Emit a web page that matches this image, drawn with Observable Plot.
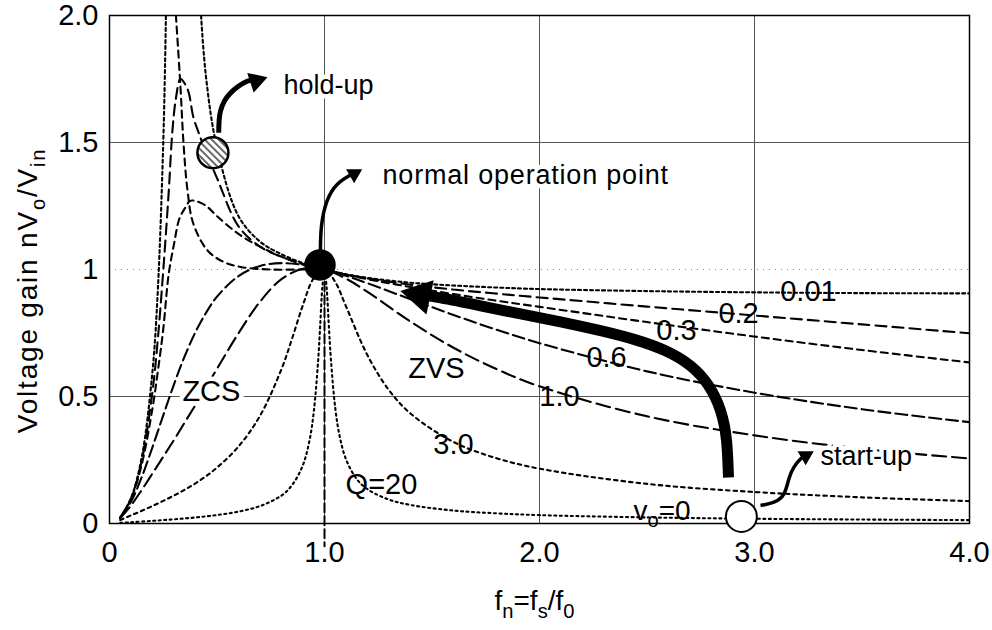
<!DOCTYPE html>
<html><head><meta charset="utf-8">
<script src="https://cdn.jsdelivr.net/npm/d3@7"></script>
<script src="https://cdn.jsdelivr.net/npm/@observablehq/plot@0.6"></script>
<style>html,body{margin:0;padding:0;background:#fff;}</style>
</head><body><div id="chart"></div>
<script>
// ---- axis ticks ----
const xTicks = [0, 1, 2, 3, 4];
const xTickLabels = ["0", "1.0", "2.0", "3.0", "4.0"];
const yTicks = [0, 0.5, 1, 1.5, 2];
const yTickLabels = ["0", "0.5", "1", "1.5", "2.0"];
const xTitle = "f_{n}=f_{s}/f_{0}";
const yTitle = "Voltage gain nV_{o}/V_{in}";

// ---- gain curves (fn, gain) ----
const q001X = [0.05, 0.1, 0.15, 0.2, 0.225, 0.25, 0.26, 0.27, 0.3, 0.4, 0.42, 0.45, 0.5, 0.6, 0.7, 0.8, 0.9, 1.0, 1.1, 1.2, 1.4, 1.6, 1.8, 2.0, 2.5, 3.0, 3.5, 4.0];
const q001Y = [0.023, 0.1, 0.261, 0.6, 0.922, 1.5, 1.88, 2.42, null, 2.4, 2.08, 1.75, 1.48, 1.21, 1.11, 1.06, 1.025, 1.0, 0.981, 0.967, 0.948, 0.937, 0.929, 0.923, 0.915, 0.91, 0.907, 0.906];

const q02X = [0.05, 0.1, 0.15, 0.2, 0.225, 0.25, 0.275, 0.293, 0.31, 0.33, 0.363, 0.39, 0.414, 0.45, 0.5, 0.6, 0.7, 0.8, 0.9, 1.0, 1.1, 1.2, 1.4, 1.6, 1.8, 2.0, 2.5, 3.0, 3.5, 4.0];
const q02Y = [0.023, 0.098, 0.247, 0.52, 0.728, 0.996, 1.3, 1.55, 1.68, 1.75, 1.71, 1.6, 1.54, 1.46, 1.36, 1.17, 1.09, 1.05, 1.02, 1.0, 0.98, 0.965, 0.94, 0.921, 0.905, 0.89, 0.854, 0.819, 0.784, 0.749];

const q03X = [0.05, 0.1, 0.15, 0.2, 0.225, 0.25, 0.275, 0.3, 0.325, 0.35, 0.375, 0.4, 0.45, 0.5, 0.6, 0.7, 0.8, 0.9, 1.0, 1.1, 1.2, 1.4, 1.6, 1.8, 2.0, 2.5, 3.0, 3.5, 4.0];
const q03Y = [0.023, 0.096, 0.233, 0.454, 0.6, 0.765, 0.98, 1.1, 1.2, 1.24, 1.27, 1.27, 1.25, 1.21, 1.14, 1.09, 1.05, 1.022, 1.0, 0.98, 0.962, 0.931, 0.903, 0.877, 0.853, 0.793, 0.736, 0.683, 0.634];

const steepX = [0.305, 0.33, 0.344, 0.363, 0.39, 0.456, 0.53, 0.61, 0.75, 0.9, 1.0];
const steepY = [2.05, 1.72, 1.5, 1.31, 1.18, 1.075, 1.03, 1.01, 1.0, 1.0, 1.0];

const q06X = [0.05, 0.1, 0.15, 0.2, 0.25, 0.3, 0.35, 0.4, 0.45, 0.5, 0.6, 0.7, 0.8, 0.9, 1.0, 1.1, 1.2, 1.4, 1.6, 1.8, 2.0, 2.5, 3.0, 3.5, 4.0];
const q06Y = [0.022, 0.086, 0.183, 0.301, 0.426, 0.548, 0.659, 0.754, 0.831, 0.893, 0.974, 1.014, 1.025, 1.018, 1.0, 0.975, 0.946, 0.883, 0.821, 0.763, 0.71, 0.599, 0.515, 0.45, 0.399];

const q10X = [0.05, 0.1, 0.15, 0.2, 0.25, 0.3, 0.35, 0.4, 0.45, 0.5, 0.6, 0.7, 0.8, 0.9, 1.0, 1.1, 1.2, 1.4, 1.6, 1.8, 2.0, 2.5, 3.0, 3.5, 4.0];
const q10Y = [0.021, 0.071, 0.132, 0.197, 0.263, 0.329, 0.398, 0.467, 0.538, 0.609, 0.749, 0.873, 0.962, 1.003, 1.0, 0.964, 0.912, 0.795, 0.692, 0.608, 0.54, 0.422, 0.347, 0.294, 0.256];

const q30X = [0.05, 0.1, 0.15, 0.2, 0.25, 0.3, 0.35, 0.4, 0.45, 0.5, 0.6, 0.7, 0.8, 0.85, 0.9, 0.95, 1.0, 1.05, 1.1, 1.2, 1.3, 1.4, 1.6, 1.8, 2.0, 2.5, 3.0, 3.5, 4.0];
const q30Y = [0.0135, 0.032, 0.05, 0.069, 0.089, 0.11, 0.133, 0.158, 0.187, 0.22, 0.303, 0.424, 0.608, 0.73, 0.861, 0.966, 1.0, 0.951, 0.855, 0.662, 0.525, 0.433, 0.321, 0.257, 0.216, 0.156, 0.124, 0.103, 0.088];

const q20X = [0.05, 0.1, 0.2, 0.3, 0.4, 0.5, 0.6, 0.7, 0.8, 0.85, 0.9, 0.93, 0.95, 0.97, 0.98, 0.99, 1.0, 1.01, 1.02, 1.03, 1.05, 1.07, 1.1, 1.15, 1.2, 1.3, 1.4, 1.6, 1.8, 2.0, 2.5, 3.0, 3.5, 4.0];
const q20Y = [0.0025, 0.005, 0.0104, 0.0165, 0.0238, 0.0333, 0.0468, 0.0685, 0.11, 0.152, 0.231, 0.326, 0.439, 0.636, 0.78, 0.93, 1.0, 0.927, 0.782, 0.644, 0.455, 0.346, 0.253, 0.175, 0.135, 0.094, 0.073, 0.051, 0.04, 0.033, 0.024, 0.0187, 0.0156, 0.0133];

const qInfX = [1, 1];
const qInfY = [0.95, -0.09];

// ---- curve labels ----
const curveLabels = ["0.01", "0.2", "0.3", "0.6", "1.0", "3.0", "Q=20"];
const curveLabelX = [3.251, 2.926, 2.637, 2.312, 2.093, 1.6, 1.265];
const curveLabelY = [0.912, 0.825, 0.759, 0.652, 0.499, 0.311, 0.153];

const zoneLabels = ["ZCS", "ZVS"];
const zoneLabelX = [0.474, 1.521];
const zoneLabelY = [0.519, 0.609];

const noteLabels = ["hold-up", "normal operation point", "start-up", "v_{o}=0"];
const noteLabelX = [0.809, 1.27, 3.307, 2.437];
const noteLabelY = [1.723, 1.372, 0.263, 0.051];

// ---- operating points ----
const holdUpPt = [{x: 0.481, y: 1.46}];
const normalPt = [{x: 0.979, y: 1.018}];
const startUpPt = [{x: 2.939, y: 0.028}];

// ---- annotation arrows (shaft paths and head positions) ----
const bigArrowX = [2.879, 2.870, 2.842, 2.786, 2.702, 2.586, 2.447, 2.284, 2.098, 1.912, 1.726, 1.540, 1.447];
const bigArrowY = [0.181, 0.326, 0.444, 0.543, 0.621, 0.680, 0.723, 0.759, 0.794, 0.825, 0.857, 0.888, 0.900];
const holdArrowX = [0.508, 0.516, 0.563, 0.64, 0.675];
const holdArrowY = [1.538, 1.623, 1.695, 1.741, 1.745];
const normArrowX = [0.981, 0.986, 1.012, 1.06, 1.121];
const normArrowY = [1.073, 1.171, 1.27, 1.336, 1.372];
const startArrowX = [3.028, 3.09, 3.137, 3.16, 3.183, 3.214, 3.238];
const startArrowY = [0.071, 0.084, 0.117, 0.176, 0.221, 0.254, 0.266];
const bigHead = [{x: 1.445, y: 0.899}];
const holdHead = [{x: 0.682, y: 1.7425}];
const normHead = [{x: 1.138, y: 1.376}];
const startHead = [{x: 3.238, y: 0.266}];

// ---- helpers ----
const pts = (xs, ys) => xs.map((x, i) => ({x, y: ys[i]}));
const lbl = (ts, xs, ys) => ts.map((t, i) => ({t, x: xs[i], y: ys[i]}));
const xFmt = new Map(xTicks.map((t, i) => [t, xTickLabels[i]]));
const yFmt = new Map(yTicks.map((t, i) => [t, yTickLabels[i]]));

const curve = (xs, ys, dash, w = 2.1) => Plot.line(pts(xs, ys), {
  x: "x", y: "y", curve: "catmull-rom", stroke: "black", strokeWidth: w,
  strokeDasharray: dash, clip: true
});
const shaft = (xs, ys, w) => Plot.line(pts(xs, ys), {
  x: "x", y: "y", curve: "natural", stroke: "black", strokeWidth: w, strokeLinecap: "butt"
});
const head = (d, r, rot) => Plot.dot(d, {x: "x", y: "y", symbol: "triangle", r, rotate: rot, fill: "black", stroke: "none"});

const chart = Plot.plot({
  width: 992, height: 630,
  marginLeft: 109, marginRight: 23, marginTop: 15, marginBottom: 107,
  style: {fontFamily: "'Liberation Sans', Arial, sans-serif", fontSize: "29px", color: "black", background: "white", overflow: "visible"},
  x: {domain: [0, 4], ticks: xTicks, tickFormat: d => xFmt.get(d), tickSize: 0, tickPadding: 18, label: null},
  y: {domain: [0, 2], ticks: yTicks, tickFormat: d => yFmt.get(d), tickSize: 0, tickPadding: 11, label: null},
  marks: [
    Plot.ruleX([1, 2, 3], {stroke: "#555", strokeWidth: 1}),
    Plot.ruleY([0.5, 1.5], {stroke: "#555", strokeWidth: 1}),
    Plot.ruleY([1], {stroke: "#888", strokeWidth: 1, strokeDasharray: "1,5"}),
    curve(q001X, q001Y, "3,3"),
    curve(q02X, q02Y, "11,6"),
    curve(q03X, q03Y, "7,5"),
    curve(steepX, steepY, "7,5"),
    curve(q06X, q06Y, "12,5"),
    curve(q10X, q10Y, "14,6"),
    curve(q30X, q30Y, "3.5,4"),
    curve(q20X, q20Y, "2,3.5"),
    Plot.line(pts(qInfX, qInfY), {x: "x", y: "y", stroke: "black", strokeWidth: 2, strokeDasharray: "9,4"}),
    Plot.frame({stroke: "black", strokeWidth: 1.5}),
    Plot.text(lbl(curveLabels, curveLabelX, curveLabelY), {x: "x", y: "y", text: "t", fontSize: 29, fill: "black"}),
    Plot.text(lbl(zoneLabels, zoneLabelX, zoneLabelY), {x: "x", y: "y", text: "t", fontSize: 29, fill: "black", stroke: "white", strokeWidth: 9, paintOrder: "stroke"}),
    Plot.text(lbl(noteLabels.slice(0, 3), noteLabelX.slice(0, 3), noteLabelY.slice(0, 3)), {x: "x", y: "y", text: "t", fontSize: 27, textAnchor: "start", fill: "black", stroke: "white", strokeWidth: 9, paintOrder: "stroke"}),
    Plot.text(lbl(noteLabels.slice(3), noteLabelX.slice(3), noteLabelY.slice(3)), {x: "x", y: "y", text: "t", fontSize: 28, textAnchor: "start", fill: "black"}),
    Plot.dot(holdUpPt, {x: "x", y: "y", r: 15.5, fill: "url(#hatch)", stroke: "black", strokeWidth: 2.5}),
    Plot.dot(normalPt, {x: "x", y: "y", r: 15, fill: "black", stroke: "black"}),
    Plot.dot(startUpPt, {x: "x", y: "y", r: 15.5, fill: "white", stroke: "black", strokeWidth: 2}),
    shaft(bigArrowX, bigArrowY, 11),
    shaft(holdArrowX, holdArrowY, 5),
    shaft(normArrowX, normArrowY, 3.5),
    shaft(startArrowX, startArrowY, 3.5),
    head(bigHead, 13, -78),
    head(holdHead, 7.7, 72),
    head(normHead, 6, 60),
    head(startHead, 6, 60),
    Plot.text([yTitle], {frameAnchor: "left", textAnchor: "middle", lineAnchor: "middle", dx: -81, dy: 21, rotate: -90, fontSize: 28, fill: "black"}),
    Plot.text([xTitle], {frameAnchor: "bottom", textAnchor: "middle", lineAnchor: "middle", dx: -5, dy: 78, fontSize: 28, fill: "black"})
  ]
});

document.getElementById("chart").appendChild(chart);

// hatch pattern for the hold-up point
const defs = d3.select(chart).insert("defs", ":first-child");
const pat = defs.append("pattern").attr("id", "hatch").attr("patternUnits", "userSpaceOnUse")
  .attr("width", 5).attr("height", 5).attr("patternTransform", "rotate(-45)");
pat.append("rect").attr("width", 5).attr("height", 5).attr("fill", "white");
pat.append("line").attr("x1", 1).attr("y1", 0).attr("x2", 1).attr("y2", 5).attr("stroke", "black").attr("stroke-width", 1.2);

// letter spacing tweaks + subscripts
d3.select(chart).selectAll("text").each(function () {
  const t = this.textContent;
  if (t === yTitle) this.setAttribute("letter-spacing", "1.8");
  if (t === "normal operation point") this.setAttribute("letter-spacing", "0.8");
  if (!t.includes("_{")) return;
  const fs = parseFloat(getComputedStyle(this).fontSize) || 28;
  const sh = fs * 0.28;
  const parts = t.split(/(_\{[^}]*\})/).filter(p => p);
  this.textContent = "";
  let shifted = false;
  for (const p of parts) {
    const ts = d3.select(this).append("tspan");
    if (p.startsWith("_{")) {
      ts.text(p.slice(2, -1)).attr("font-size", fs * 0.72);
      if (!shifted) ts.attr("dy", sh);
      shifted = true;
    } else {
      ts.text(p);
      if (shifted) ts.attr("dy", -sh);
      shifted = false;
    }
  }
});
</script></body></html>
